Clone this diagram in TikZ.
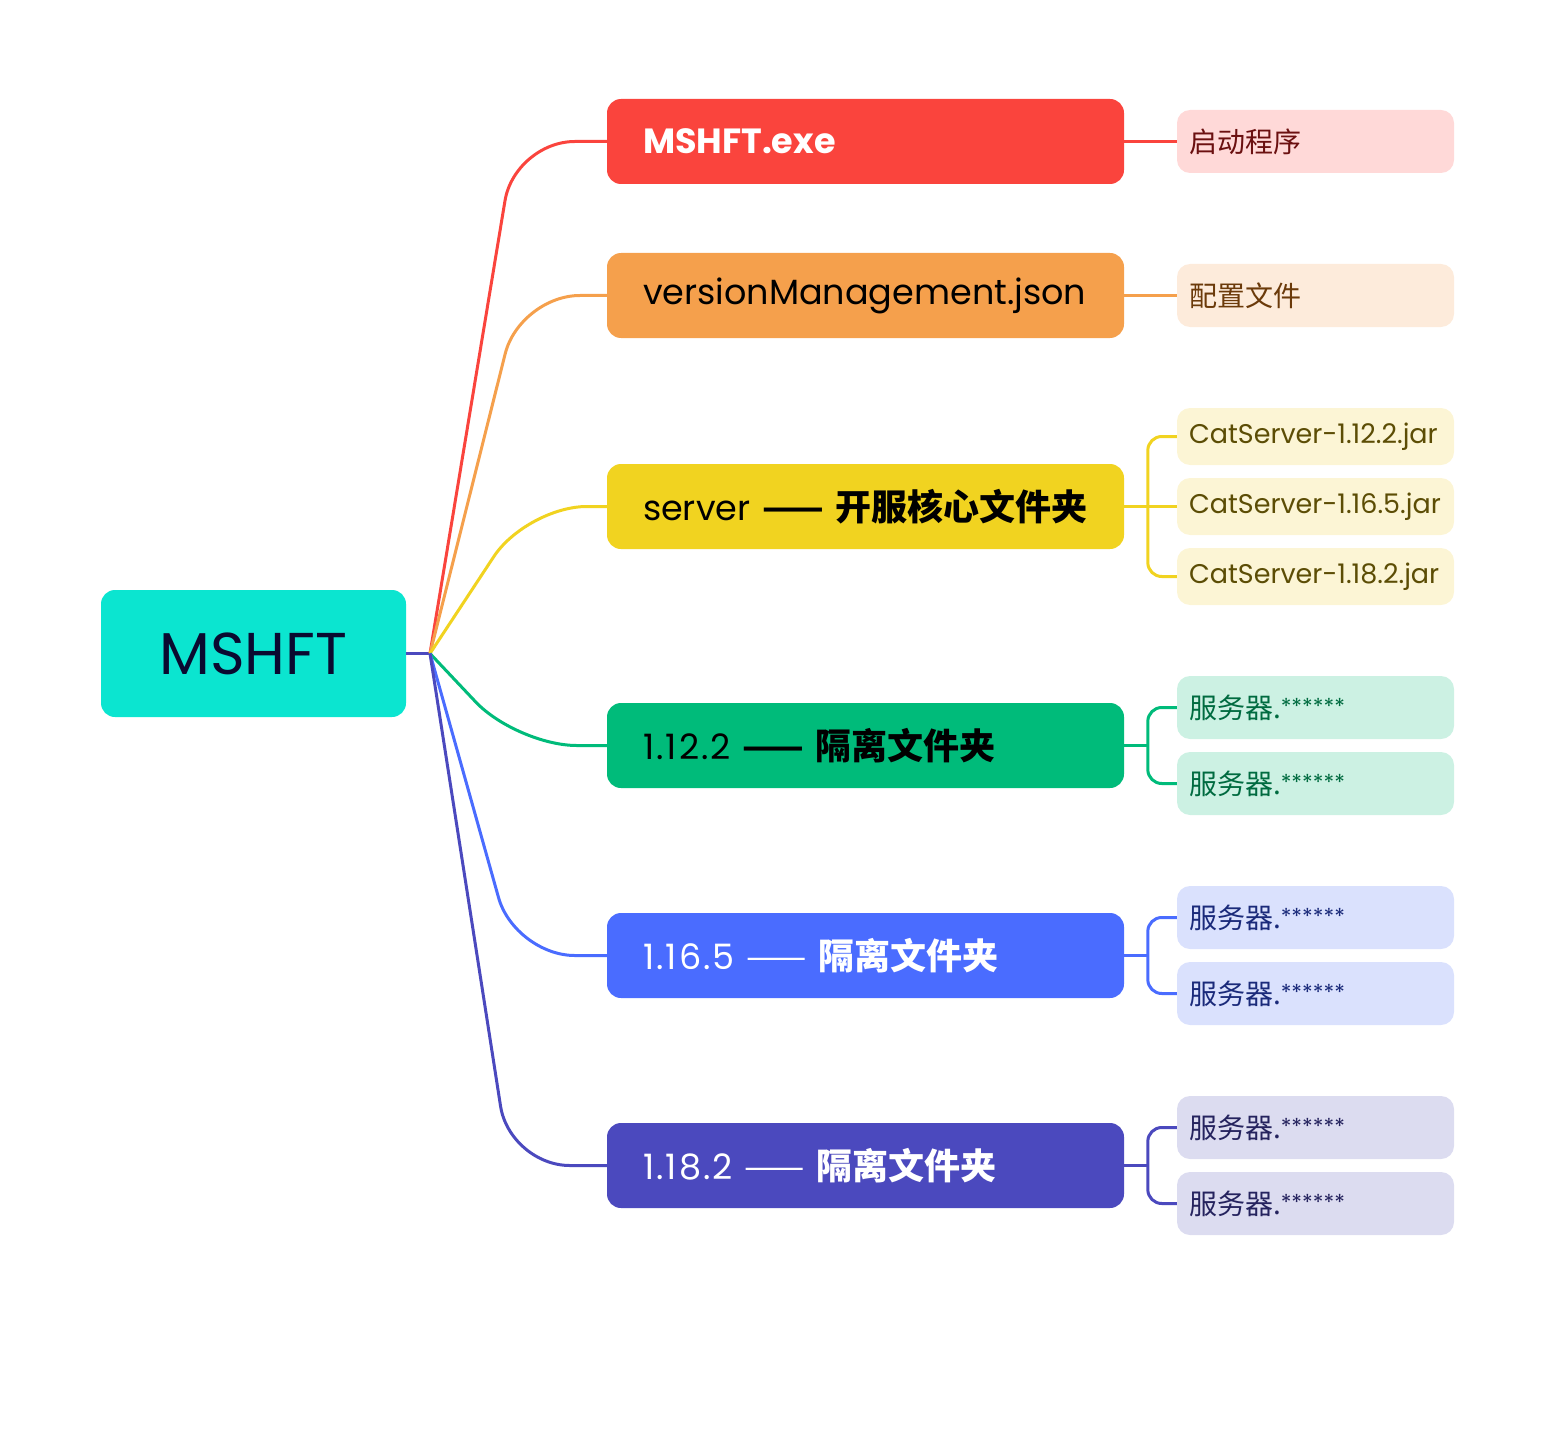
\documentclass[tikz,border=0pt]{standalone}
\usepackage{fontspec}
\setmainfont{Poppins}
\newfontfamily\cjk{Noto Sans CJK SC}
\definecolor{rootc}{HTML}{0BE5D0}
\definecolor{roottxt}{HTML}{0A0A30}
\definecolor{cred}{HTML}{FA443D}
\definecolor{lred}{HTML}{FFD9D8}
\definecolor{tred}{HTML}{6B1010}
\definecolor{corg}{HTML}{F5A04C}
\definecolor{lorg}{HTML}{FDEBDB}
\definecolor{torg}{HTML}{6B3A0A}
\definecolor{cyel}{HTML}{F1D320}
\definecolor{lyel}{HTML}{FCF5D5}
\definecolor{tyel}{HTML}{5C4D05}
\definecolor{cgrn}{HTML}{00BB7A}
\definecolor{lgrn}{HTML}{CCF1E3}
\definecolor{tgrn}{HTML}{006B40}
\definecolor{cblu}{HTML}{4A6CFF}
\definecolor{lblu}{HTML}{DAE1FD}
\definecolor{tblu}{HTML}{1A2A7A}
\definecolor{cpur}{HTML}{4B49BE}
\definecolor{lpur}{HTML}{DCDCF0}
\definecolor{tpur}{HTML}{25235E}
\newcommand{\stars}{{\fontsize{22}{22}\selectfont\raisebox{4pt}{******}}}
\newcommand{\srv}{{\cjk\fontsize{28}{30}\selectfont 服务器.}\stars}
\newcommand{\bigcjk}{\cjk\fontsize{36}{40}\selectfont}
\newcommand{\dsh}{{\cjk\fontsize{36}{40}\selectfont ——}}
\newcommand{\ver}[1]{{\addfontfeatures{LetterSpace=6}#1}}
\begin{document}
\begin{tikzpicture}[x=1pt,y=-1pt,
  rootbox/.style={rounded corners=14pt, minimum width=305pt, minimum height=127pt, inner sep=0pt, fill=rootc, text=roottxt, font=\fontsize{59}{62}\selectfont},
  lvone/.style={rounded corners=14pt, minimum height=85pt, text width=445pt, inner xsep=36pt, inner ysep=0pt, align=left, font=\fontsize{35}{40}\selectfont},
  lvtwo/.style={rounded corners=13pt, minimum height=63pt, text width=253pt, inner xsep=12pt, inner ysep=0pt, align=left, font=\fontsize{27}{30}\selectfont},
  lvtwos/.style={lvtwo, minimum height=57pt},
  conn/.style={line width=3pt},
  mainconn/.style={conn, rounded corners=60pt},
  brk/.style={conn, rounded corners=14pt}
]
\useasboundingbox (0,0) rectangle (1555,1447);

\node[rootbox] (root) at (253.5,653.5) {MSHFT};
\coordinate (hub) at (430,653.5);

\node[lvone, fill=cred, text=white] (n1) at (865.5,141.5) {\bfseries MSHFT.exe};
\node[lvone, fill=corg, text=black] (n2) at (865.5,295.5) {versionManagement.json};
\node[lvone, fill=cyel, text=black] (n3) at (865.5,506.5) {\mbox{server {\bfseries\dsh} {\bigcjk\bfseries 开服核心文件夹}}};
\node[lvone, fill=cgrn, text=black] (n4) at (865.5,745.5) {\mbox{\ver{1.12.2} {\bfseries\dsh} {\bigcjk\bfseries 隔离文件夹}}};
\node[lvone, fill=cblu, text=white] (n5) at (865.5,955.5) {\mbox{\ver{1.16.5} \dsh{} {\bigcjk\bfseries 隔离文件夹}}};
\node[lvone, fill=cpur, text=white] (n6) at (865.5,1165.5) {\mbox{\ver{1.18.2} \dsh{} {\bigcjk\bfseries 隔离文件夹}}};

\node[lvtwo, fill=lred, text=tred] (c1) at (1315.5,141.5) {\cjk\fontsize{28}{30}\selectfont 启动程序};
\node[lvtwo, fill=lorg, text=torg] (c2) at (1315.5,295.5) {\cjk\fontsize{28}{30}\selectfont 配置文件};
\node[lvtwos, fill=lyel, text=tyel] (c31) at (1315.5,436.5) {CatServer-1.12.2.jar};
\node[lvtwos, fill=lyel, text=tyel] (c32) at (1315.5,506.5) {CatServer-1.16.5.jar};
\node[lvtwos, fill=lyel, text=tyel] (c33) at (1315.5,576.5) {CatServer-1.18.2.jar};
\node[lvtwo, fill=lgrn, text=tgrn] (c41) at (1315.5,707.5) {\srv};
\node[lvtwo, fill=lgrn, text=tgrn] (c42) at (1315.5,783.5) {\srv};
\node[lvtwo, fill=lblu, text=tblu] (c51) at (1315.5,917.5) {\srv};
\node[lvtwo, fill=lblu, text=tblu] (c52) at (1315.5,993.5) {\srv};
\node[lvtwo, fill=lpur, text=tpur] (c61) at (1315.5,1127.5) {\srv};
\node[lvtwo, fill=lpur, text=tpur] (c62) at (1315.5,1203.5) {\srv};

% root to hub
\draw[conn, cpur] (root.east) -- (hub);
% main branches
\draw[mainconn, cred] (hub) -- ([xshift=-92pt]n1.west) -- (n1.west);
\draw[mainconn, corg] (hub) -- ([xshift=-87pt]n2.west) -- (n2.west);
\draw[mainconn, cyel] (hub) -- ([xshift=-80pt]n3.west) -- (n3.west);
\draw[mainconn, cgrn] (hub) -- ([xshift=-90pt]n4.west) -- (n4.west);
\draw[mainconn, cblu] (hub) -- ([xshift=-92pt]n5.west) -- (n5.west);
\draw[mainconn, cpur] (hub) -- ([xshift=-97pt]n6.west) -- (n6.west);

% level 2 connectors
\draw[conn, cred] (n1.east) -- (c1.west);
\draw[conn, corg] (n2.east) -- (c2.west);
\draw[conn, cyel] (n3.east) -- (c32.west);
\draw[brk, cyel] (c31.west) -- ([xshift=-29pt]c31.west) -- ([xshift=-29pt]c33.west) -- (c33.west);
\draw[conn, cgrn] (n4.east) -- ([xshift=24pt]n4.east);
\draw[brk, cgrn] (c41.west) -- ([xshift=-29pt]c41.west) -- ([xshift=-29pt]c42.west) -- (c42.west);
\draw[conn, cblu] (n5.east) -- ([xshift=24pt]n5.east);
\draw[brk, cblu] (c51.west) -- ([xshift=-29pt]c51.west) -- ([xshift=-29pt]c52.west) -- (c52.west);
\draw[conn, cpur] (n6.east) -- ([xshift=24pt]n6.east);
\draw[brk, cpur] (c61.west) -- ([xshift=-29pt]c61.west) -- ([xshift=-29pt]c62.west) -- (c62.west);
\end{tikzpicture}
\end{document}
